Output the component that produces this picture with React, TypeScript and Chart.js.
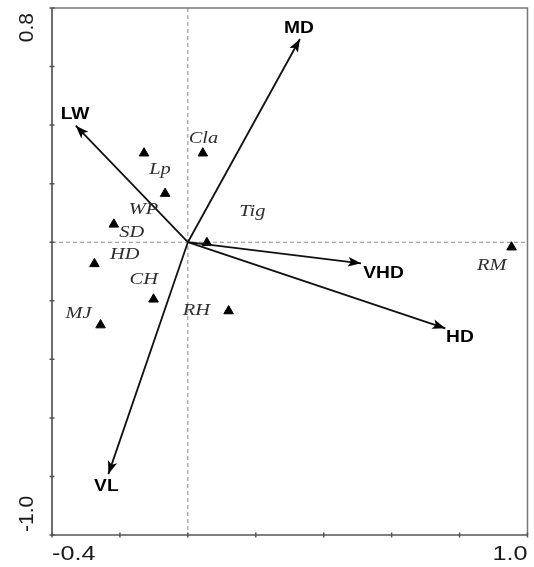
import React, { useEffect, useRef } from "react";
import { Chart, registerables } from "chart.js";

Chart.register(...registerables);

// Axis ranges and tick labels
const xMin = -0.4;
const xMax = 1.0;
const yMin = -1.0;
const yMax = 0.8;
const tickStep = 0.2;
const xTickLabels = ["-0.4", "1.0"];
const yTickLabels = ["0.8", "-1.0"];

// Species (triangles)
const speciesNames = ["Cla", "Lp", "WP", "SD", "HD", "Tig", "RM", "CH", "MJ", "RH"];
const speciesX = [0.044, -0.129, -0.067, -0.218, -0.275, 0.056, 0.953, -0.101, -0.257, 0.12];
const speciesY = [0.304, 0.304, 0.166, 0.061, -0.074, -0.002, -0.017, -0.195, -0.283, -0.235];
const speciesLabelX = [0.046, -0.082, -0.131, -0.165, -0.186, 0.19, 0.895, -0.13, -0.322, 0.025];
const speciesLabelY = [0.354, 0.247, 0.11, 0.034, -0.041, 0.105, -0.078, -0.129, -0.242, -0.234];

// Environmental vectors (arrows)
const envNames = ["MD", "LW", "VHD", "HD", "VL"];
const envX = [0.33, -0.33, 0.51, 0.758, -0.234];
const envY = [0.694, 0.398, -0.072, -0.294, -0.792];
const envLabelX = [0.327, -0.332, 0.576, 0.801, -0.24];
const envLabelY = [0.729, 0.437, -0.108, -0.325, -0.836];

const STRETCH = 1.2;

function drawText(
  ctx: CanvasRenderingContext2D,
  text: string,
  x: number,
  y: number,
  font: string,
  color: string,
  align: CanvasTextAlign,
  sx: number
) {
  ctx.save();
  ctx.translate(x, y);
  ctx.scale(sx, 1);
  ctx.font = font;
  ctx.fillStyle = color;
  ctx.textAlign = align;
  ctx.textBaseline = "middle";
  ctx.fillText(text, 0, 0);
  ctx.restore();
}

const framePlugin = {
  id: "biplotFrame",
  beforeDatasetsDraw(chart: any) {
    const { ctx, chartArea, scales } = chart;
    const xs = scales.x;
    const ys = scales.y;
    const { left, right, top, bottom } = chartArea;
    ctx.save();
    // dashed zero lines
    ctx.strokeStyle = "#8c8c8c";
    ctx.lineWidth = 1;
    ctx.setLineDash([4, 3]);
    const x0 = xs.getPixelForValue(0);
    const y0 = ys.getPixelForValue(0);
    ctx.beginPath();
    ctx.moveTo(x0, top);
    ctx.lineTo(x0, bottom);
    ctx.moveTo(left, y0);
    ctx.lineTo(right, y0);
    ctx.stroke();
    ctx.setLineDash([]);
    // top/right frame
    ctx.strokeStyle = "#777";
    ctx.lineWidth = 1.5;
    ctx.beginPath();
    ctx.moveTo(left, top);
    ctx.lineTo(right, top);
    ctx.lineTo(right, bottom);
    ctx.stroke();
    // left/bottom axes
    ctx.strokeStyle = "#555";
    ctx.lineWidth = 1.7;
    ctx.beginPath();
    ctx.moveTo(left, top);
    ctx.lineTo(left, bottom);
    ctx.lineTo(right, bottom);
    ctx.stroke();
    // tick marks
    ctx.lineWidth = 1.5;
    ctx.beginPath();
    const nx = Math.round((xMax - xMin) / tickStep);
    for (let i = 0; i <= nx; i++) {
      const px = xs.getPixelForValue(xMin + i * tickStep);
      ctx.moveTo(px, bottom - 2.5);
      ctx.lineTo(px, bottom + 2.5);
    }
    const ny = Math.round((yMax - yMin) / tickStep);
    for (let i = 0; i <= ny; i++) {
      const py = ys.getPixelForValue(yMin + i * tickStep);
      ctx.moveTo(left - 2.5, py);
      ctx.lineTo(left + 2.5, py);
    }
    ctx.stroke();
    // tick labels
    const tickFont = "21px 'Liberation Sans', Arial, sans-serif";
    drawText(ctx, xTickLabels[0], xs.getPixelForValue(xMin), bottom + 19, tickFont, "#1a1a1a", "left", STRETCH);
    drawText(ctx, xTickLabels[1], xs.getPixelForValue(xMax), bottom + 19, tickFont, "#1a1a1a", "right", STRETCH);
    // rotated y labels
    const yLabelX = left - 25;
    ctx.font = tickFont;
    ctx.fillStyle = "#1a1a1a";
    ctx.textBaseline = "middle";
    ctx.save();
    ctx.translate(yLabelX, ys.getPixelForValue(yMax) + 5);
    ctx.rotate(-Math.PI / 2);
    ctx.textAlign = "right";
    ctx.fillText(yTickLabels[0], 0, 0);
    ctx.restore();
    ctx.save();
    ctx.translate(yLabelX, ys.getPixelForValue(yMin) - 3);
    ctx.rotate(-Math.PI / 2);
    ctx.textAlign = "left";
    ctx.fillText(yTickLabels[1], 0, 0);
    ctx.restore();
    ctx.restore();
  },
  afterDatasetsDraw(chart: any) {
    const { ctx, scales } = chart;
    const xs = scales.x;
    const ys = scales.y;
    ctx.save();
    const ox = xs.getPixelForValue(0);
    const oy = ys.getPixelForValue(0);
    // arrowheads
    ctx.fillStyle = "#000";
    for (let i = 0; i < envNames.length; i++) {
      const tx = xs.getPixelForValue(envX[i]);
      const ty = ys.getPixelForValue(envY[i]);
      const ang = Math.atan2(ty - oy, tx - ox);
      const len = 13;
      const hw = 4.8;
      const bx = tx - Math.cos(ang) * len;
      const by = ty - Math.sin(ang) * len;
      ctx.beginPath();
      ctx.moveTo(tx, ty);
      ctx.lineTo(bx - Math.sin(ang) * hw, by + Math.cos(ang) * hw);
      ctx.lineTo(bx + Math.cos(ang) * 3, by + Math.sin(ang) * 3);
      ctx.lineTo(bx + Math.sin(ang) * hw, by - Math.cos(ang) * hw);
      ctx.closePath();
      ctx.fill();
    }
    // env labels
    const envFont = "bold 16px 'Liberation Sans', Arial, sans-serif";
    for (let i = 0; i < envNames.length; i++) {
      drawText(
        ctx,
        envNames[i],
        xs.getPixelForValue(envLabelX[i]),
        ys.getPixelForValue(envLabelY[i]),
        envFont,
        "#000",
        "center",
        STRETCH
      );
    }
    // species labels
    const spFont = "italic 17px 'Liberation Serif', 'Times New Roman', serif";
    for (let i = 0; i < speciesNames.length; i++) {
      drawText(
        ctx,
        speciesNames[i],
        xs.getPixelForValue(speciesLabelX[i]),
        ys.getPixelForValue(speciesLabelY[i]),
        spFont,
        "#2e2e2e",
        "center",
        STRETCH
      );
    }
    ctx.restore();
  },
};

export default function App() {
  const canvasRef = useRef<HTMLCanvasElement | null>(null);

  useEffect(() => {
    document.body.style.margin = "0";
    const canvas = canvasRef.current;
    if (!canvas) return;

    const arrowDatasets = envNames.map((name, i) => ({
      type: "line" as const,
      label: name,
      data: [
        { x: 0, y: 0 },
        { x: envX[i], y: envY[i] },
      ],
      borderColor: "#111",
      borderWidth: 1.8,
      pointRadius: 0,
      showLine: true,
      fill: false,
      tension: 0,
    }));

    const chart = new Chart(canvas, {
      type: "scatter",
      data: {
        datasets: [
          ...arrowDatasets,
          {
            type: "scatter" as const,
            label: "species",
            data: speciesX.map((x, i) => ({ x, y: speciesY[i] })),
            pointStyle: "triangle",
            pointRadius: 5.5,
            backgroundColor: "#000",
            borderColor: "#000",
            borderWidth: 1,
          },
        ] as any,
      },
      options: {
        animation: false,
        responsive: false,
        devicePixelRatio: window.devicePixelRatio || 1,
        layout: { padding: { left: 52, top: 8, right: 3, bottom: 32 } },
        scales: {
          x: { type: "linear", min: xMin, max: xMax, display: false },
          y: { type: "linear", min: yMin, max: yMax, display: false },
        },
        plugins: {
          legend: { display: false },
          tooltip: { enabled: false },
        },
      },
      plugins: [framePlugin],
    });

    return () => chart.destroy();
  }, []);

  return (
    <div style={{ width: 534, height: 567, background: "#fff" }}>
      <canvas ref={canvasRef} width={534} height={567} />
    </div>
  );
}
